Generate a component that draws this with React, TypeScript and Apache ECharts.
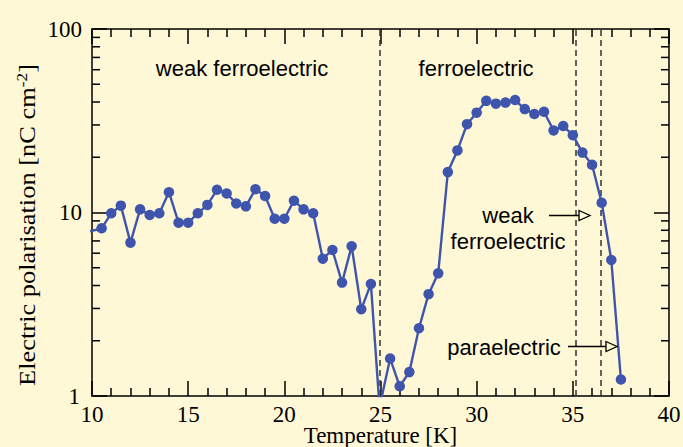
import React, { useEffect, useRef } from "react";
import * as echarts from "echarts";

const temperatures = [
  9.9, 10.5, 11, 11.5, 12, 12.5, 13, 13.5, 14, 14.5, 15, 15.5, 16, 16.5, 17,
  17.5, 18, 18.5, 19, 19.5, 20, 20.5, 21, 21.5, 22, 22.5, 23, 23.5, 24, 24.5,
  24.95, 25.5, 26, 26.5, 27, 27.5, 28, 28.5, 29, 29.5, 30, 30.5, 31, 31.5, 32,
  32.5, 33, 33.5, 34, 34.5, 35, 35.5, 36, 36.5, 37, 37.5,
];
const polarisation = [
  7.9, 8.2, 9.9, 10.9, 6.85, 10.4, 9.7, 9.9, 12.9, 8.8, 8.8, 9.9, 11.0, 13.3,
  12.7, 11.2, 10.8, 13.4, 12.3, 9.25, 9.25, 11.6, 10.4, 9.9, 5.6, 6.25, 4.15,
  6.55, 2.97, 4.08, 0.87, 1.6, 1.13, 1.35, 2.34, 3.59, 4.66, 16.6, 21.8, 30.3,
  35.0, 40.6, 39.2, 39.7, 41.0, 36.6, 34.4, 35.4, 28.0, 29.6, 26.4, 21.2, 18.2,
  11.3, 5.51, 1.23,
];
const phaseBoundaries = [24.95, 35.15, 36.45];
const yMinorTicks = [2, 3, 4, 5, 6, 7, 8, 9, 20, 30, 40, 50, 60, 70, 80, 90];
const xTickLabels = ["10", "15", "20", "25", "30", "35", "40"];
const yTickLabels = ["1", "10", "100"];

const BG = "#FFF8D6";
const SERIF = "Liberation Serif";
const SANS = "Liberation Sans";

export default function App() {
  const ref = useRef<HTMLDivElement>(null);
  useEffect(() => {
    if (!ref.current) return;
    const chart = echarts.init(ref.current, null, { renderer: "svg" });
    const axisLine = { show: true, lineStyle: { color: "#000", width: 1.5 } };
    const xCommon = {
      type: "value" as const,
      min: 10,
      max: 40,
      interval: 5,
      axisLine,
      splitLine: { show: false },
      axisTick: { inside: true, length: 15, lineStyle: { color: "#000", width: 1.5 } },
      minorTick: { show: true, splitNumber: 5, length: 8, lineStyle: { color: "#000", width: 1.5 } },
    };
    const yCommon = {
      type: "log" as const,
      logBase: 10,
      min: 1,
      max: 100,
      axisLine,
      splitLine: { show: false },
      axisTick: { inside: true, length: 15, lineStyle: { color: "#000", width: 1.5 } },
      minorTick: { show: false },
    };
    const annot = (text: string, x: number, y: number) => ({
      type: "text",
      x,
      y,
      style: { text, font: `22px "${SANS}"`, fill: "#000", align: "center", verticalAlign: "middle" },
    });
    chart.setOption({
      animation: false,
      backgroundColor: BG,
      grid: { left: 92, right: 14, top: 29, bottom: 51, containLabel: false, outerBoundsMode: "none" },
      xAxis: [
        {
          ...xCommon,
          position: "bottom",
          axisLabel: {
            color: "#000",
            fontFamily: SERIF,
            fontSize: 23,
            margin: 7,
            formatter: (v: number) => {
              const s = String(v);
              return xTickLabels.includes(s) ? s : "";
            },
          },
          name: "Temperature [K]",
          nameLocation: "middle",
          nameGap: 28,
          nameMoveOverlap: false,
          nameTextStyle: { color: "#000", fontFamily: SERIF, fontSize: 23, verticalAlign: "top" },
        },
        { ...xCommon, position: "top", axisLabel: { show: false } },
      ],
      yAxis: [
        {
          ...yCommon,
          position: "left",
          axisLabel: {
            color: "#000",
            fontFamily: SERIF,
            fontSize: 23,
            margin: 3,
            formatter: (v: number) => {
              const s = String(v);
              if (!yTickLabels.includes(s)) return "";
              return s === "1" ? "{one|" + s + "}" : "{n|" + s + "}";
            },
            rich: {
              one: { fontFamily: SERIF, fontSize: 23, color: "#000", padding: [0, 9, 0, 0] },
              n: { fontFamily: SERIF, fontSize: 23, color: "#000", padding: [0, 7, 0, 0] },
            },
          },
        },
        { ...yCommon, position: "right", axisLabel: { show: false } },
      ],
      graphic: [
        {
          type: "text",
          x: 27,
          y: 225,
          rotation: Math.PI / 2,
          scaleX: 1.15,
          style: {
            text: "{a|Electric polarisation [nC cm}{s|-2}{a|]}",
            align: "center",
            verticalAlign: "middle",
            rich: {
              a: { fontFamily: SERIF, fontSize: 23, fill: "#000" },
              s: { fontFamily: SERIF, fontSize: 15, fill: "#000", verticalAlign: "top", padding: [0, 0, 10, 0] },
            },
          },
        },
        annot("weak ferroelectric", 242, 68),
        annot("ferroelectric", 476, 68),
        annot("weak", 508, 215),
        annot("ferroelectric", 508, 241),
        annot("paraelectric", 504, 347),
        { type: "line", shape: { x1: 549, y1: 215.5, x2: 579, y2: 215.5 }, style: { stroke: "#000", lineWidth: 1.5 }, z: 10 },
        { type: "polygon", shape: { points: [[579, 210.5], [590, 215.5], [579, 220.5]] }, style: { fill: BG, stroke: "#000", lineWidth: 1.3 }, z: 10 },
        { type: "line", shape: { x1: 568, y1: 346.5, x2: 606, y2: 346.5 }, style: { stroke: "#000", lineWidth: 1.5 }, z: 10 },
        { type: "polygon", shape: { points: [[606, 341.5], [617, 346.5], [606, 351.5]] }, style: { fill: BG, stroke: "#000", lineWidth: 1.3 }, z: 10 },
      ],
      series: [
        {
          type: "line",
          data: temperatures.map((t, i) => [t, polarisation[i]]),
          xAxisIndex: 0,
          yAxisIndex: 0,
          clip: true,
          symbol: "circle",
          symbolSize: 10.5,
          lineStyle: { color: "#3F55AD", width: 2.4 },
          itemStyle: { color: "#3F55AD" },
          z: 3,
          markLine: {
            silent: true,
            symbol: "none",
            label: { show: false },
            lineStyle: { color: "#333", type: [6, 4], width: 1.5 },
            data: phaseBoundaries.map((x) => ({ xAxis: x })),
            z: 2,
          },
        },
        {
          type: "custom",
          xAxisIndex: 0,
          yAxisIndex: 0,
          silent: true,
          clip: false,
          data: yMinorTicks.map((v) => [10, v]),
          renderItem: (params: any, api: any) => {
            const p = api.coord([10, api.value(1)]);
            const cs = params.coordSys;
            const st = { stroke: "#000", lineWidth: 1.5 };
            return {
              type: "group",
              children: [
                { type: "line", shape: { x1: cs.x, y1: p[1], x2: cs.x + 8, y2: p[1] }, style: st },
                { type: "line", shape: { x1: cs.x + cs.width - 8, y1: p[1], x2: cs.x + cs.width, y2: p[1] }, style: st },
              ],
            };
          },
        },
      ],
    });
    return () => chart.dispose();
  }, []);
  return (
    <div
      ref={ref}
      style={{ position: "fixed", left: 0, top: 0, width: 683, height: 447 }}
    />
  );
}
